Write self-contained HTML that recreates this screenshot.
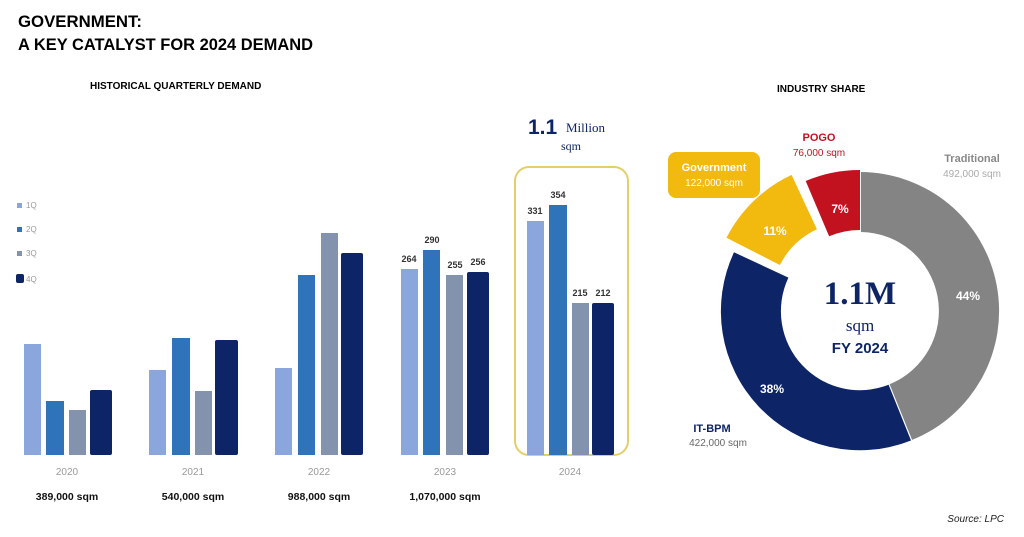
<!DOCTYPE html>
<html><head><meta charset="utf-8"><style>
body{margin:0;width:1024px;height:532px;background:#fff;overflow:hidden;font-family:"Liberation Sans",sans-serif}
</style></head><body>
<svg width="1024" height="532" xmlns="http://www.w3.org/2000/svg" font-family="Liberation Sans, sans-serif">
<text x="18" y="27" font-size="16.5" font-weight="bold" fill="#000" textLength="124" lengthAdjust="spacingAndGlyphs">GOVERNMENT:</text>
<text x="18" y="50" font-size="16.5" font-weight="bold" fill="#000" textLength="295" lengthAdjust="spacingAndGlyphs">A KEY CATALYST FOR 2024 DEMAND</text>
<text x="90" y="89" font-size="10" font-weight="bold">HISTORICAL QUARTERLY DEMAND</text>
<text x="777" y="92" font-size="10" font-weight="bold">INDUSTRY SHARE</text>
<!-- legend -->
<rect x="17" y="203" width="5" height="5" fill="#8aa6dc"/><text x="26" y="208" font-size="8" fill="#999">1Q</text>
<rect x="17" y="227" width="5" height="5" fill="#2f74ba"/><text x="26" y="232" font-size="8" fill="#999">2Q</text>
<rect x="17" y="251" width="5" height="5" fill="#8393ad"/><text x="26" y="256" font-size="8" fill="#999">3Q</text>
<rect x="16" y="274" width="8" height="9" rx="2" fill="#0d2566"/><text x="26" y="282" font-size="8" fill="#999">4Q</text>
<!-- box -->
<rect x="515" y="167" width="113" height="288" rx="14" fill="none" stroke="#e3cf6a" stroke-width="2"/>
<g>
<rect x="24" y="344" width="17" height="111" fill="#8aa6dc"/><rect x="46" y="401" width="18" height="54" fill="#2f74ba"/><rect x="69" y="410" width="17" height="45" fill="#8393ad"/><rect x="90" y="390" width="22" height="65" rx="2" fill="#0d2566"/>
<rect x="149" y="370" width="17" height="85" fill="#8aa6dc"/><rect x="172" y="338" width="18" height="117" fill="#2f74ba"/><rect x="195" y="391" width="17" height="64" fill="#8393ad"/><rect x="215" y="340" width="23" height="115" rx="2" fill="#0d2566"/>
<rect x="275" y="368" width="17" height="87" fill="#8aa6dc"/><rect x="298" y="275" width="17" height="180" fill="#2f74ba"/><rect x="321" y="233" width="17" height="222" fill="#8393ad"/><rect x="341" y="253" width="22" height="202" rx="2" fill="#0d2566"/>
<rect x="401" y="269" width="17" height="186" fill="#8aa6dc"/><rect x="423" y="250" width="17" height="205" fill="#2f74ba"/><rect x="446" y="275" width="17" height="180" fill="#8393ad"/><rect x="467" y="272" width="22" height="183" rx="2" fill="#0d2566"/>
<rect x="527" y="221" width="17" height="234" fill="#8aa6dc"/><rect x="549" y="205" width="18" height="250" fill="#2f74ba"/><rect x="572" y="303" width="17" height="152" fill="#8393ad"/><rect x="592" y="303" width="22" height="152" rx="2" fill="#0d2566"/>
</g>
<g font-size="9" font-weight="bold" fill="#333" text-anchor="middle">
<text x="409" y="262">264</text><text x="432" y="243">290</text><text x="455" y="268">255</text><text x="478" y="265">256</text>
<text x="535" y="214">331</text><text x="558" y="198">354</text><text x="580" y="296">215</text><text x="603" y="296">212</text>
</g>
<g font-size="10" fill="#999" text-anchor="middle">
<text x="67" y="475">2020</text><text x="193" y="475">2021</text><text x="319" y="475">2022</text><text x="445" y="475">2023</text><text x="570" y="475">2024</text>
</g>
<g font-size="10.5" font-weight="bold" fill="#111" text-anchor="middle">
<text x="67" y="500">389,000 sqm</text><text x="193" y="500">540,000 sqm</text><text x="319" y="500">988,000 sqm</text><text x="445" y="500">1,070,000 sqm</text>
</g>
<text x="528" y="134" font-size="21" font-weight="bold" fill="#0d2566">1.1</text>
<text x="566" y="132" font-size="13" font-family="Liberation Serif, serif" fill="#0d2566">Million</text>
<text x="571" y="150" font-size="12" font-family="Liberation Serif, serif" fill="#0d2566" text-anchor="middle">sqm</text>
<!-- donut -->
<path d="M861,172 A139,139 0 0 1 912.1,439.9 L889.6,384.2 A79,79 0 0 0 861,232 Z" fill="#848484"/>
<path d="M911,440.5 A139,139 0 0 1 734,252.3 L788.4,277.6 A79,79 0 0 0 888.6,384.8 Z" fill="#0d2566"/>
<path d="M726.5,237.8 A139,139 0 0 1 791.6,174.9 L816.9,229.3 A79,79 0 0 0 779.9,265 Z" fill="#f2b90f"/>
<path d="M805.7,181 A139,139 0 0 1 860,170 L860,230 A79,79 0 0 0 829.1,236.3 Z" fill="#c3121f"/>
<g font-weight="bold" fill="#fff" font-size="12" text-anchor="middle">
<text x="968" y="300">44%</text><text x="772" y="393">38%</text><text x="775" y="235">11%</text><text x="840" y="213">7%</text>
</g>
<text x="860" y="304" font-size="33" font-weight="bold" font-family="Liberation Serif, serif" fill="#0d2566" text-anchor="middle">1.1M</text>
<text x="860" y="331" font-size="17" font-family="Liberation Serif, serif" fill="#0d2566" text-anchor="middle">sqm</text>
<text x="860" y="353" font-size="15" font-weight="bold" fill="#0d2566" text-anchor="middle">FY 2024</text>
<rect x="668" y="152" width="92" height="46" rx="8" fill="#f2b90f"/>
<text x="714" y="171" font-size="11" font-weight="bold" fill="#fff" text-anchor="middle">Government</text>
<text x="714" y="186" font-size="10" fill="#fff" text-anchor="middle">122,000 sqm</text>
<text x="819" y="141" font-size="11" font-weight="bold" fill="#c3121f" text-anchor="middle">POGO</text>
<text x="819" y="156" font-size="10" fill="#c3121f" text-anchor="middle">76,000 sqm</text>
<text x="972" y="162" font-size="11" font-weight="bold" fill="#888" text-anchor="middle">Traditional</text>
<text x="972" y="177" font-size="10" fill="#aaa" text-anchor="middle">492,000 sqm</text>
<text x="712" y="432" font-size="11" font-weight="bold" fill="#0d2566" text-anchor="middle">IT-BPM</text>
<text x="718" y="446" font-size="10" fill="#666" text-anchor="middle">422,000 sqm</text>
<text x="1004" y="522" font-size="10" font-style="italic" fill="#222" text-anchor="end">Source: LPC</text>
</svg>
</body></html>
